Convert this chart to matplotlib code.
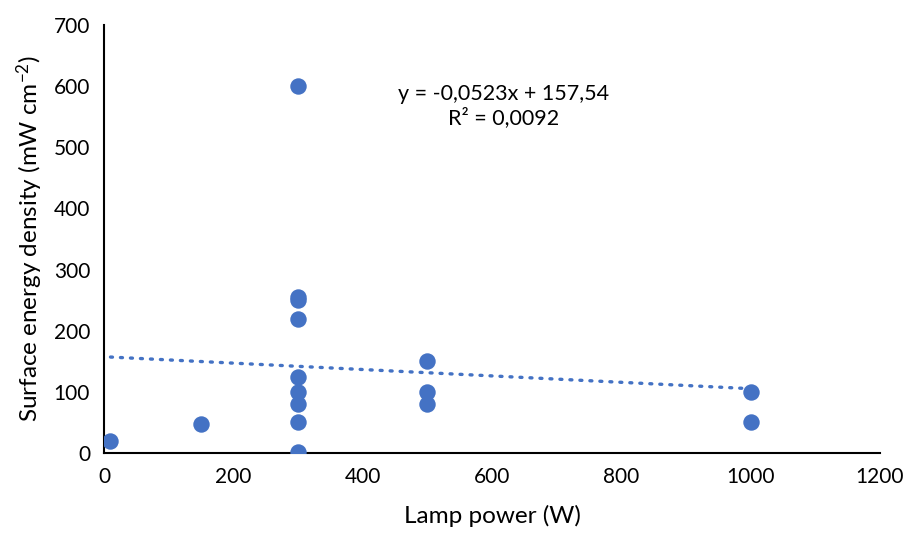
import matplotlib

matplotlib.use("Agg")
import matplotlib.pyplot as plt
import numpy as np

# Lamp power (W) vs. surface energy density (mW cm-2)
lamp_power = [10, 150, 300, 300, 300, 300, 300, 300, 300, 300, 300,
              500, 500, 500, 1000, 1000]
energy_density = [20, 47, 600, 255, 250, 220, 125, 100, 80, 50, 2,
                  150, 100, 80, 100, 50]

# linear trendline coefficients
slope = -0.0523
intercept = 157.54
r_squared = 0.0092

x_ticks = [0, 200, 400, 600, 800, 1000, 1200]
y_ticks = [0, 100, 200, 300, 400, 500, 600, 700]

BLUE = "#4472C4"

plt.rcParams["font.family"] = ["Lato", "DejaVu Sans"]
plt.rcParams["mathtext.default"] = "regular"

fig = plt.figure(figsize=(9.06, 5.33), dpi=100)
ax = fig.add_axes([0.1148, 0.15, 0.8565, 0.803])

ax.scatter(lamp_power, energy_density, s=140, color=BLUE, zorder=3,
           linewidths=0)

trend_x = np.array([min(lamp_power), max(lamp_power)])
trend_y = slope * trend_x + intercept
ax.plot(trend_x, trend_y, color=BLUE, linewidth=2.4,
        linestyle=(0, (0.6, 2.4)), dash_capstyle="round", zorder=2)

eq = f"y = {slope}x + {intercept}".replace(".", ",")
r2 = f"R² = {r_squared}".replace(".", ",")
ax.text(618, 568, eq + "\n" + r2, ha="center", va="center",
        fontsize=15.5, linespacing=1.2)

ax.set_xlim(0, 1200)
ax.set_ylim(0, 700)
ax.set_xticks(x_ticks)
ax.set_yticks(y_ticks)
ax.tick_params(length=0, labelsize=15, pad=10)

for side in ("top", "right"):
    ax.spines[side].set_visible(False)
for side in ("left", "bottom"):
    ax.spines[side].set_linewidth(1.5)
    ax.spines[side].set_color("black")

ax.set_xlabel("Lamp power (W)", fontsize=17.5, labelpad=13)
ax.set_ylabel("Surface energy density (mW cm$^{-2}$)", fontsize=17.5,
              labelpad=6)

fig.savefig("out.png", dpi=100)
